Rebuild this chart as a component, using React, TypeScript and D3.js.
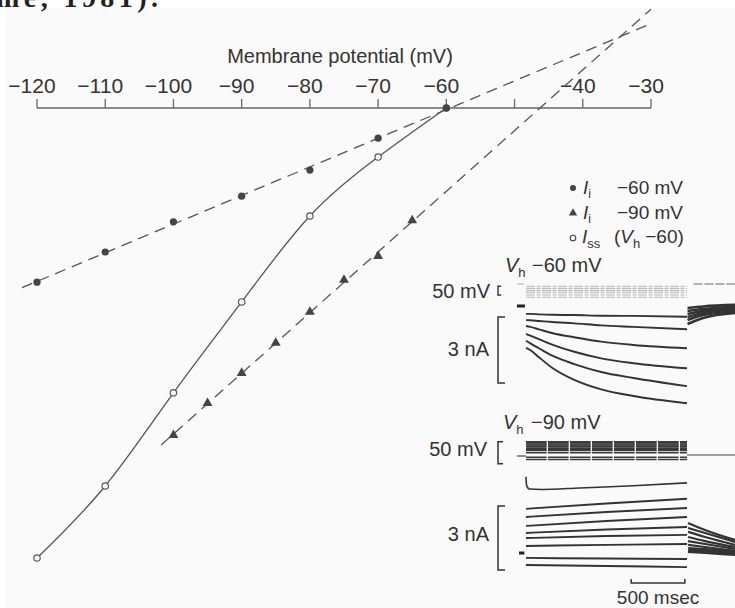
import * as d3 from "d3"

// I-V plot (main panel)
const potentials = [-120, -110, -100, -90, -80, -70, -60]
const instantVh60 = [-3.87, -3.2, -2.53, -1.96, -1.38, -0.67, 0]
const steadyVh60 = [-10.0, -8.4, -6.33, -4.31, -2.4, -1.09, 0]
const potentialsVh90 = [-100, -95, -90, -85, -80, -75, -70, -65]
const instantVh90 = [-7.27, -6.56, -5.89, -5.22, -4.53, -3.82, -3.29, -2.5]
const fitRangeVh60 = [-122.2, -30]
const fitRangeVh90 = [-101.8, -30]
const xTicks = [-120, -110, -100, -90, -80, -70, -60, -50, -40, -30]
const xTickLabels = ["−120", "−110", "−100", "−90", "−80", "−70", "−60", "", "−40", "−30"]

// inset, Vh -60 mV (currents in nA, time in ms)
const topTimes = [0, 40, 120, 250, 450, 700, 1000, 1500]
const topCurrents = [
  [-0.36, -0.36, -0.38, -0.4, -0.41, -0.44, -0.45, -0.49],
  [-0.64, -0.65, -0.68, -0.73, -0.79, -0.88, -0.95, -1.06],
  [-0.91, -0.95, -1.06, -1.24, -1.42, -1.62, -1.77, -1.92],
  [-1.27, -1.35, -1.51, -1.77, -2.08, -2.38, -2.6, -2.83],
  [-1.58, -1.7, -1.92, -2.27, -2.64, -3.0, -3.27, -3.64],
  [-1.9, -2.0, -2.33, -2.83, -3.36, -3.79, -4.09, -4.42],
]
const topTailTimes = [1505, 1650, 1950]
const topTails = [
  [-0.09, -0.02, 0.05],
  [-0.23, -0.14, -0.03],
  [-0.36, -0.23, -0.1],
  [-0.5, -0.32, -0.17],
  [-0.64, -0.41, -0.25],
  [-0.82, -0.55, -0.32],
]
const topStepLevels = [-70, -80, -90, -100, -110, -120]

// inset, Vh -90 mV
const botTimes = [0, 750, 1500]
const botFirstTimes = [0, 5, 30, 150, 500, 1000, 1500]
const botFirstCurrent = [3.57, 3.19, 3.0, 2.98, 3.05, 3.15, 3.29]
const botCurrents = [
  [2.07, 2.32, 2.54],
  [1.69, 1.92, 2.11],
  [1.27, 1.5, 1.69],
  [0.94, 1.1, 1.22],
  [0.7, 0.8, 0.85],
  [0.33, 0.38, 0.42],
  [-0.23, -0.26, -0.28],
  [-0.56, -0.61, -0.66],
]
const botTailTimes = [1510, 1668, 1950]
const botTails = [
  [1.41, 1.08, 0.61],
  [1.17, 0.94, 0.52],
  [0.99, 0.75, 0.38],
  [0.75, 0.56, 0.28],
  [0.56, 0.42, 0.19],
  [0.38, 0.28, 0.09],
  [0.14, 0.09, 0.0],
]
const botStepLevels = [-100, -95, -85, -80, -75, -70, -65, -60, -62, -67, -72, -77]

function fitLine(xs: number[], ys: number[]) {
  const mx = d3.mean(xs)!
  const my = d3.mean(ys)!
  const sxy = d3.sum(xs, (x, i) => (x - mx) * (ys[i] - my))
  const sxx = d3.sum(xs, (x) => (x - mx) ** 2)
  const slope = sxy / sxx
  return (x: number) => my + slope * (x - mx)
}

const FONT = "'Liberation Sans', Arial, sans-serif"
const INK = "#333"

export default function App() {
  const x = d3.scaleLinear().domain([-120, -30]).range([37, 651])
  const y = d3.scaleLinear().domain([0, -10]).range([108, 558])

  const f60 = fitLine(potentials, instantVh60)
  const f90 = fitLine(potentialsVh90, instantVh90)
  const line = d3.line<[number, number]>().x((d) => x(d[0])).y((d) => y(d[1]))
  const curve = d3
    .line<[number, number]>()
    .x((d) => x(d[0]))
    .y((d) => y(d[1]))
    .curve(d3.curveNatural)

  const tri = d3.symbol().type(d3.symbolTriangle).size(42)()

  // inset scales
  const t = d3.scaleLinear().domain([0, 1500]).range([526, 687])
  const iTop = d3.scaleLinear().domain([0, -3]).range([306, 372])
  const vTop = d3.scaleLinear().domain([-60, -110]).range([284, 295])
  const iBot = d3.scaleLinear().domain([0, 3]).range([553, 489])
  const vBot = d3.scaleLinear().domain([-90, -40]).range([455, 433])

  const traceTop = d3
    .line<[number, number]>()
    .x((d) => t(d[0]))
    .y((d) => iTop(d[1]))
    .curve(d3.curveMonotoneX)
  const traceBot = d3
    .line<[number, number]>()
    .x((d) => t(d[0]))
    .y((d) => iBot(d[1]))
    .curve(d3.curveMonotoneX)

  const zip = (ts: number[], vs: number[]) => ts.map((tt, i) => [tt, vs[i]] as [number, number])

  return (
    <svg
      width={735}
      height={608}
      style={{ position: "fixed", left: 0, top: 0, background: "#ffffff" }}
      fontFamily={FONT}
    >
      <rect x={6} y={8} width={729} height={600} fill="#fafafa" />
      <text x={-4} y={7} fontFamily="'Liberation Serif', serif" fontWeight="bold" fontSize={28} fill="#222" textLength={162}>
        me, 1981).
      </text>

      {/* axis */}
      <text x={340} y={63} textAnchor="middle" fontSize={20} fill={INK}>
        Membrane potential (mV)
      </text>
      <line x1={x(-120)} x2={x(-30)} y1={y(0)} y2={y(0)} stroke="#666" strokeWidth={1.3} />
      {xTicks.map((v, i) => (
        <g key={v}>
          <line x1={x(v)} x2={x(v)} y1={y(0)} y2={y(0) - 9} stroke="#666" strokeWidth={1.3} />
          <text x={x(v) - 5} y={93} textAnchor="middle" fontSize={21} fill={INK}>
            {xTickLabels[i]}
          </text>
        </g>
      ))}

      {/* fitted instantaneous lines */}
      <path
        d={line(fitRangeVh60.map((v) => [v, f60(v)]))!}
        fill="none"
        stroke="#555"
        strokeWidth={1.3}
        strokeDasharray="11 7"
      />
      <path
        d={line(fitRangeVh90.map((v) => [v, f90(v)]))!}
        fill="none"
        stroke="#555"
        strokeWidth={1.3}
        strokeDasharray="11 7"
      />
      {/* steady state curve */}
      <path d={curve(zip(potentials, steadyVh60))!} fill="none" stroke="#555" strokeWidth={1.3} />

      {steadyVh60.map((v, i) => (
        <circle key={"o" + i} cx={x(potentials[i])} cy={y(v)} r={3.2} fill="#fafafa" stroke="#555" strokeWidth={1.2} />
      ))}
      {instantVh60.map((v, i) => (
        <circle key={"f" + i} cx={x(potentials[i])} cy={y(v)} r={3.6} fill="#444" />
      ))}
      {instantVh90.map((v, i) => (
        <path key={"t" + i} d={tri!} transform={`translate(${x(potentialsVh90[i])},${y(v)})`} fill="#444" />
      ))}

      {/* legend */}
      <g fontSize={19} fill={INK}>
        <circle cx={573} cy={188} r={3} fill="#444" />
        <text x={583} y={194}>
          <tspan fontStyle="italic">I</tspan>
          <tspan fontSize={12} dy={4}>i</tspan>
          <tspan x={617} dy={-4}>−60 mV</tspan>
        </text>
        <path d={d3.symbol().type(d3.symbolTriangle).size(30)()!} transform="translate(573,213)" fill="#444" />
        <text x={583} y={219}>
          <tspan fontStyle="italic">I</tspan>
          <tspan fontSize={12} dy={4}>i</tspan>
          <tspan x={617} dy={-4}>−90 mV</tspan>
        </text>
        <circle cx={573} cy={238} r={2.8} fill="none" stroke="#444" strokeWidth={1.1} />
        <text x={582} y={243}>
          <tspan fontStyle="italic">I</tspan>
          <tspan fontSize={13} dy={5}>ss</tspan>
          <tspan x={614} dy={-5}>(</tspan>
          <tspan fontStyle="italic">V</tspan>
          <tspan fontSize={13} dy={5}>h</tspan>
          <tspan dx={5} dy={-5}>−60)</tspan>
        </text>
      </g>

      {/* inset: Vh -60 mV */}
      <g fontSize={20} fill={INK}>
        <text x={505} y={272}>
          <tspan fontStyle="italic">V</tspan>
          <tspan fontSize={13} dy={5}>h</tspan>
          <tspan x={532} dy={-5}>−60 mV</tspan>
        </text>
        <text x={490} y={298} textAnchor="end">50 mV</text>
        <text x={489} y={356} textAnchor="end">3 nA</text>
      </g>
      <path
        d={`M${501},${vTop(-70)}H${498}V${vTop(-110)}H${501}`}
        fill="none"
        stroke={INK}
        strokeWidth={1.4}
      />
      <path
        d={`M${505},${iTop(-0.5)}H${498}V${iTop(-3.5)}H${505}`}
        fill="none"
        stroke={INK}
        strokeWidth={1.5}
      />
      <line x1={t(-80)} x2={t(-20)} y1={vTop(-60)} y2={vTop(-60)} stroke="#aaa" strokeWidth={1} />
      <line x1={t(1560)} x2={t(1950)} y1={vTop(-60)} y2={vTop(-60)} stroke="#999" strokeWidth={1.3} strokeDasharray="9 2" />
      {topStepLevels.map((lv) => (
        <line
          key={lv}
          x1={t(0)}
          x2={t(1500)}
          y1={vTop(lv)}
          y2={vTop(lv)}
          stroke="#b8b8b8"
          strokeWidth={1.1}
          strokeDasharray="9 1.5 4 1.5"
        />
      ))}
      <line x1={t(-85)} x2={t(-10)} y1={iTop(0)} y2={iTop(0)} stroke="#222" strokeWidth={3} />
      {topCurrents.map((c, k) => (
        <path key={k} d={traceTop(zip(topTimes, c))!} fill="none" stroke="#333" strokeWidth={1.9} />
      ))}
      {topTails.map((c, k) => (
        <path key={k} d={traceTop(zip(topTailTimes, c))!} fill="none" stroke="#333" strokeWidth={2.6} />
      ))}

      {/* inset: Vh -90 mV */}
      <g fontSize={20} fill={INK}>
        <text x={503} y={429}>
          <tspan fontStyle="italic">V</tspan>
          <tspan fontSize={13} dy={5}>h</tspan>
          <tspan x={531} dy={-5}>−90 mV</tspan>
        </text>
        <text x={487} y={456} textAnchor="end">50 mV</text>
        <text x={489} y={541} textAnchor="end">3 nA</text>
      </g>
      <path
        d={`M${503},${vBot(-60)}H${498}V${vBot(-110)}H${503}`}
        fill="none"
        stroke={INK}
        strokeWidth={1.5}
      />
      <path
        d={`M${505},${iBot(2.2)}H${498}V${iBot(-0.8)}H${505}`}
        fill="none"
        stroke={INK}
        strokeWidth={1.5}
      />
      <line x1={t(-85)} x2={t(0)} y1={vBot(-90) + 1} y2={vBot(-90) + 1} stroke="#444" strokeWidth={1.2} />
      <line x1={t(1500)} x2={t(1950)} y1={vBot(-90)} y2={vBot(-90)} stroke="#444" strokeWidth={1.2} />
      {botStepLevels.map((lv) => (
        <line
          key={lv}
          x1={t(0)}
          x2={t(1500)}
          y1={vBot(lv)}
          y2={vBot(lv)}
          stroke="#3a3a3a"
          strokeWidth={1.5}
          strokeDasharray="20.6 1.4"
        />
      ))}
      <line x1={t(-65)} x2={t(-15)} y1={iBot(0)} y2={iBot(0)} stroke="#222" strokeWidth={3} />
      <path d={traceBot(zip(botFirstTimes, botFirstCurrent))!} fill="none" stroke="#333" strokeWidth={1.6} />
      {botCurrents.map((c, k) => (
        <path key={k} d={traceBot(zip(botTimes, c))!} fill="none" stroke="#333" strokeWidth={1.9} />
      ))}
      {botTails.map((c, k) => (
        <path
          key={k}
          d={traceBot(zip(botTailTimes, c))!}
          fill="none"
          stroke="#333"
          strokeWidth={k === botTails.length - 1 ? 6 : 2.2}
        />
      ))}

      {/* time scale bar */}
      <path
        d={`M${t(980)},${579}V${583}H${t(1480)}V${579}`}
        fill="none"
        stroke={INK}
        strokeWidth={1.5}
      />
      <text x={(t(980) + t(1480)) / 2} y={604} textAnchor="middle" fontSize={19} fill={INK}>
        500 msec
      </text>
    </svg>
  )
}
